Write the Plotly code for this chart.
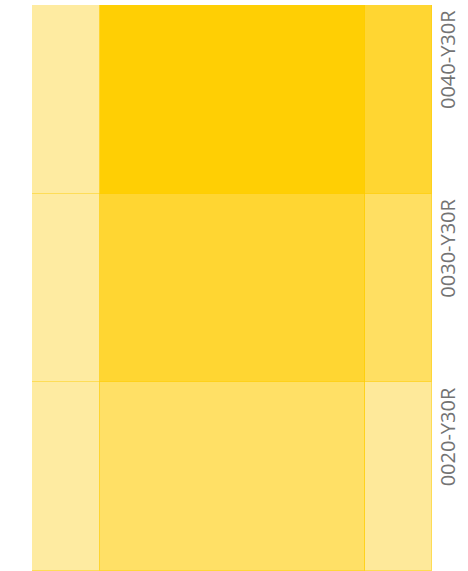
import plotly.graph_objects as go

# Data
rows = ["0020-Y30R", "0030-Y30R", "0040-Y30R"]  # bottom -> top
left_vals = [17, 17, 17]
middle_vals = [66.25, 66.25, 66.25]
right_vals = [16.75, 16.75, 16.75]

# Styles
left_colors = ["#FEEBA1", "#FEEBA1", "#FEEBA1"]
middle_colors = ["#FFE066", "#FFD632", "#FFCF04"]
right_colors = ["#FEE99A", "#FFDF62", "#FFD632"]
line_col = "rgba(255,205,0,0.45)"

fig = go.Figure()
for name, vals, cols in [("left", left_vals, left_colors),
                         ("middle", middle_vals, middle_colors),
                         ("right", right_vals, right_colors)]:
    fig.add_trace(go.Bar(
        y=rows, x=vals, orientation="h", name=name,
        marker=dict(color=cols, line=dict(color=line_col, width=1)),
        hoverinfo="skip", showlegend=False,
    ))

for i, r in enumerate(rows):
    fig.add_annotation(
        text=r, xref="paper", x=1, xanchor="left", xshift=0,
        yref="y", y=i + 0.5, yanchor="top", yshift=-3,
        textangle=-90, showarrow=False,
        font=dict(family="Open Sans", size=20, color="#737373"),
    )

fig.update_layout(
    barmode="stack", bargap=0,
    width=468, height=571,
    margin=dict(l=32, r=36, t=5, b=0),
    paper_bgcolor="white", plot_bgcolor="white",
    xaxis=dict(visible=False, range=[0, 100], fixedrange=True),
    yaxis=dict(visible=False, range=[-0.5, 2.5], fixedrange=True),
)

fig.write_html("out.html", config={"displayModeBar": False},
               post_script="document.body.style.margin='0';")
